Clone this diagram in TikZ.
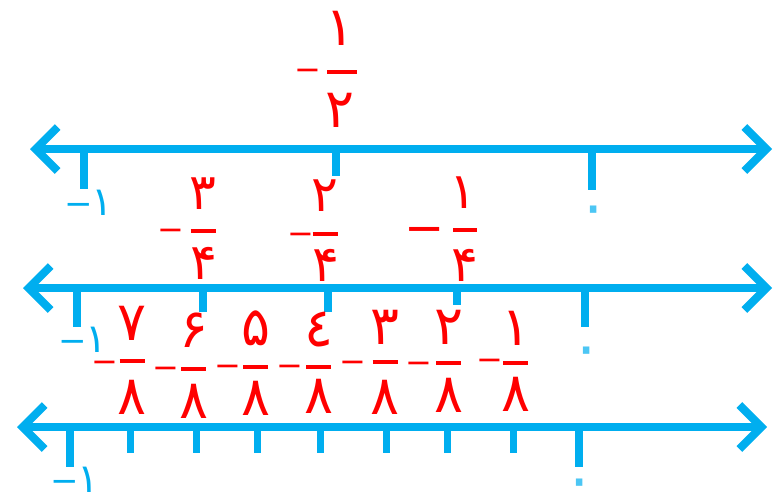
\documentclass[tikz,border=0pt]{standalone}
\usepackage{fontspec}
\newfontfamily\arabicfont[Script=Arabic]{DejaVu Sans}
\usetikzlibrary{arrows.meta}
\definecolor{lineblue}{RGB}{0,174,239}
\definecolor{fracred}{RGB}{255,0,0}
\newcommand{\negone}{{\fontsize{34}{34}\selectfont −}\kern-1pt ١}

\begin{document}
\begin{tikzpicture}[x=1pt, y=-1pt,
    numline/.style={lineblue, line width=8pt,
      {Straight Barb[length=22pt,width=44pt]}-{Straight Barb[length=22pt,width=44pt]}},
    ticklong/.style={lineblue, line width=8pt},
    tickshort/.style={lineblue, line width=7pt},
    digit/.style={fracred, inner sep=0pt, font=\arabicfont\fontsize{54}{54}\selectfont},
    qdigit/.style={digit, font=\arabicfont\fontsize{50}{50}\selectfont},
    fracbar/.style={fracred, line width=4pt},
    negsign/.style={fracred, inner sep=0pt, anchor=north, font=\arabicfont\fontsize{32}{32}\selectfont},
    endlabel/.style={lineblue, inner sep=0pt, anchor=base west, font=\arabicfont\fontsize{40}{40}\selectfont},
    zerolabel/.style={lineblue!70, inner sep=0pt, font=\arabicfont\fontsize{60}{60}\selectfont}]

    \useasboundingbox (0,0) rectangle (773,499);

    % Number lines
    \coordinate (la) at (30,149);  \coordinate (lb) at (772,149);
    \coordinate (ma) at (23,288);  \coordinate (mb) at (772,288);
    \coordinate (na) at (17,427);  \coordinate (nb) at (767,427);
    \draw[numline] (la) -- (lb);
    \draw[numline] (ma) -- (mb);
    \draw[numline] (na) -- (nb);

    % Ticks
    \draw[ticklong] (84,149) -- (84,189);
    \draw[ticklong] (336,149) -- (336,176);
    \draw[ticklong] (592,149) -- (592,190);

    \draw[ticklong] (77,288) -- (77,327);
    \draw[ticklong] (203,288) -- (203,312);
    \draw[ticklong] (328,288) -- (328,312);
    \draw[ticklong] (457,288) -- (457,305);
    \draw[ticklong] (585,288) -- (585,327);

    \draw[ticklong] (70,427) -- (70,467);
    \foreach \x in {130,196,257,320,386,447,513}
        \draw[tickshort] (\x,427) -- (\x,453);
    \draw[ticklong] (579,427) -- (579,467);

    % End labels
    \node[endlabel] (lone) at (64,215) {\negone};
    \node[zerolabel] (lzero) at (594,216) {٠};
    \node[endlabel] (mone) at (58,352) {\negone};
    \node[zerolabel] (mzero) at (587,357) {٠};
    \node[endlabel] (none) at (50,492) {\negone};
    \node[zerolabel] (nzero) at (580,489) {٠};

    % Fraction on the first line
    \node[digit] (hnum) at (340,28) {١};
    \node[digit] (hden) at (340,110) {٢};
    \coordinate (hbl) at (327,72); \coordinate (hbr) at (357,72);
    \draw[fracbar] (hbl) -- (hbr);
    \node[negsign] (hneg) at (308,68.5) {−};

    % Quarters
    \foreach \x/\n/\ny/\dx/\dy/\by/\mx/\my [count=\i] in
        {203/٣/194/204/263/231/171/230, 325/٢/196/326/265/234/301/234}{
        \node[qdigit] (qnum\i) at (\x,\ny) {\n};
        \node[qdigit] (qden\i) at (\dx,\dy) {۴};
        \coordinate (qbl\i) at (\x-12.5,\by); \coordinate (qbr\i) at (\x+12.5,\by);
        \draw[fracbar] (qbl\i) -- (qbr\i);
        \node[negsign] (qneg\i) at (\mx,\my-1.5) {−};
    }
    \node[qdigit] (qnum3) at (463,193) {١};
    \node[qdigit] (qden3) at (465,265) {۴};
    \coordinate (qbl3) at (453,230); \coordinate (qbr3) at (477,230);
    \draw[fracbar] (qbl3) -- (qbr3);
    \node[negsign, font=\arabicfont\fontsize{48}{48}\selectfont] (qneg3) at (424.5,227.5) {−};

    % Eighths
    \foreach \x/\n/\ny/\dy/\by/\mx/\my [count=\i] in
        {132/٧/323/397/361/104.5/362, 193.5/۶/330/401/369/166/368,
         255.5/۵/328/398/367/228/366, 318.5/٤/329/396/367/289.5/366,
         385/٣/327/397/362/352.5/362, 448.5/٢/327/395/363/419/363,
         515.5/١/328/394/363/489.5/360}{
        \node[digit] (enum\i) at (\x,\ny) {\n};
        \node[digit] (eden\i) at (\x,\dy) {٨};
        \coordinate (ebl\i) at (\x-12.5,\by); \coordinate (ebr\i) at (\x+12.5,\by);
        \draw[fracbar] (ebl\i) -- (ebr\i);
        \node[negsign] (eneg\i) at (\mx,\my-1.5) {−};
    }

\end{tikzpicture}
\end{document}
